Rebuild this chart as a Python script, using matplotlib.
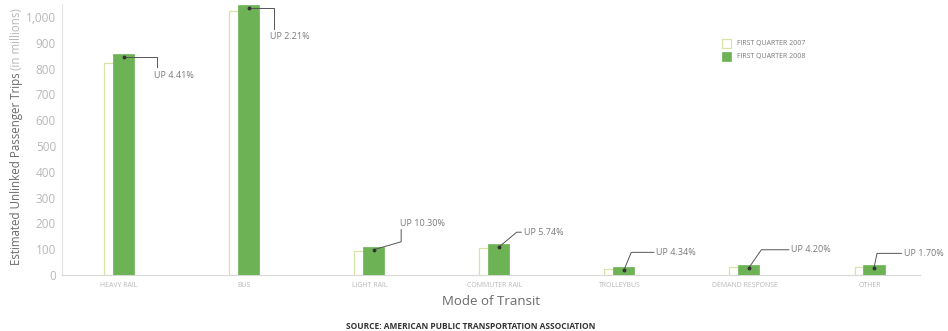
import matplotlib
matplotlib.use('Agg')
import matplotlib.pyplot as plt
import numpy as np

# data (millions of trips)
modes = ['HEAVY RAIL', 'BUS', 'LIGHT RAIL', 'COMMUTER RAIL', 'TROLLEYBUS', 'DEMAND RESPONSE', 'OTHER']
q1_2007 = [820, 1022, 95, 105, 24, 33, 30]
q1_2008 = [856, 1045, 110, 120, 30, 40, 38]
changes = ['UP 4.41%', 'UP 2.21%', 'UP 10.30%', 'UP 5.74%', 'UP 4.34%', 'UP 4.20%', 'UP 1.70%']
yticks = np.arange(0, 1001, 100)

GREEN = '#6db356'
PALE = '#d9e3a6'
LIGHT = '#b8b8b8'
MID = '#7a7a7a'

plt.rcParams['font.family'] = ['Open Sans', 'DejaVu Sans']

fig = plt.figure(figsize=(9.48, 3.31), dpi=100)
ax = fig.add_axes([0.065, 0.169, 0.905, 0.819])

x = np.arange(len(modes))
ax.bar(x - 0.08, q1_2007, width=0.08, color='white', edgecolor=PALE, linewidth=0.9, zorder=2)
ax.bar(x + 0.035, q1_2008, width=0.17, color=GREEN, edgecolor=GREEN, linewidth=0.5, zorder=3)

# callout leader lines: style, elbow dx, elbow dy, end of horizontal run
callouts = [
    ('down', 0.27, -40, 0),
    ('down', 0.20, -80, 0),
    ('upv', 0.22, 31, 78),
    ('up', 0.144, 58, 0.18),
    ('up', 0.06, 70, 0.24),
    ('up', 0.10, 70, 0.32),
    ('up', 0.025, 58, 0.22),
]
for i, (style, dx, dy, run) in enumerate(callouts):
    cx = x[i] + 0.035
    top = q1_2008[i] - 12
    ax.plot(cx, top, 'o', color='#333333', ms=1.8, zorder=5)
    if style == 'down':
        xs = [cx, cx + dx, cx + dx]
        ys = [top, top, top + dy]
        ax.text(cx + dx - 0.03, top + dy - 30, changes[i], fontsize=6.5, color=MID,
                ha='left', va='center')
    elif style == 'upv':
        xs = [cx, cx + dx, cx + dx]
        ys = [top, top + dy, top + run]
        ax.text(cx + dx - 0.01, top + run + 25, changes[i], fontsize=6.5, color=MID,
                ha='left', va='center')
    else:
        xs = [cx, cx + dx, cx + run]
        ys = [top, top + dy, top + dy]
        ax.text(cx + run + 0.02, top + dy, changes[i], fontsize=6.5, color=MID,
                ha='left', va='center')
    ax.plot(xs, ys, color='#555555', lw=0.7, zorder=4)

ax.set_xlim(-0.46, 6.4)
ax.set_ylim(0, 1050)
ax.set_yticks(yticks)
ax.set_yticklabels([f'{v:,}' for v in yticks], fontsize=8.5, color=LIGHT)
ax.set_xticks(x)
ax.set_xticklabels(modes, fontsize=5, color=LIGHT)
ax.tick_params(axis='both', length=0, pad=4)
ax.tick_params(axis='x', pad=5)
for s in ['top', 'right']:
    ax.spines[s].set_visible(False)
ax.spines['left'].set_color('#e2e2e2')
ax.spines['bottom'].set_color('#d8d8d8')
ax.spines['left'].set_linewidth(0.8)
ax.spines['bottom'].set_linewidth(0.8)

ax.set_xlabel('Mode of Transit', fontsize=9.5, color='#6a6a6a', labelpad=4)

# y label in two shades
t1 = fig.text(0.017, 0.2, 'Estimated Unlinked Passenger Trips', rotation=90,
              fontsize=8.3, color='#6a6a6a', ha='center', va='bottom')
fig.canvas.draw()
bb = t1.get_window_extent()
fig.text(0.017, bb.y1 / fig.bbox.height + 0.008, '(in millions)', rotation=90,
         fontsize=8.3, color=LIGHT, ha='center', va='bottom')

# legend
lx, ly = 0.762, 0.855
fig.patches.append(plt.Rectangle((lx, ly), 0.009, 0.026, transform=fig.transFigure,
                                 facecolor='white', edgecolor=PALE, lw=0.9))
fig.patches.append(plt.Rectangle((lx, ly - 0.038), 0.009, 0.026, transform=fig.transFigure,
                                 facecolor=GREEN, edgecolor=GREEN, lw=0.5))
fig.text(lx + 0.015, ly + 0.013, 'FIRST QUARTER 2007', fontsize=5, color=MID, va='center')
fig.text(lx + 0.015, ly - 0.025, 'FIRST QUARTER 2008', fontsize=5, color=MID, va='center')

fig.text(0.497, 0.013, 'SOURCE: AMERICAN PUBLIC TRANSPORTATION ASSOCIATION',
         fontsize=6, fontweight='bold', color='#333333', ha='center', va='center')

fig.savefig('out.png', dpi=100)
